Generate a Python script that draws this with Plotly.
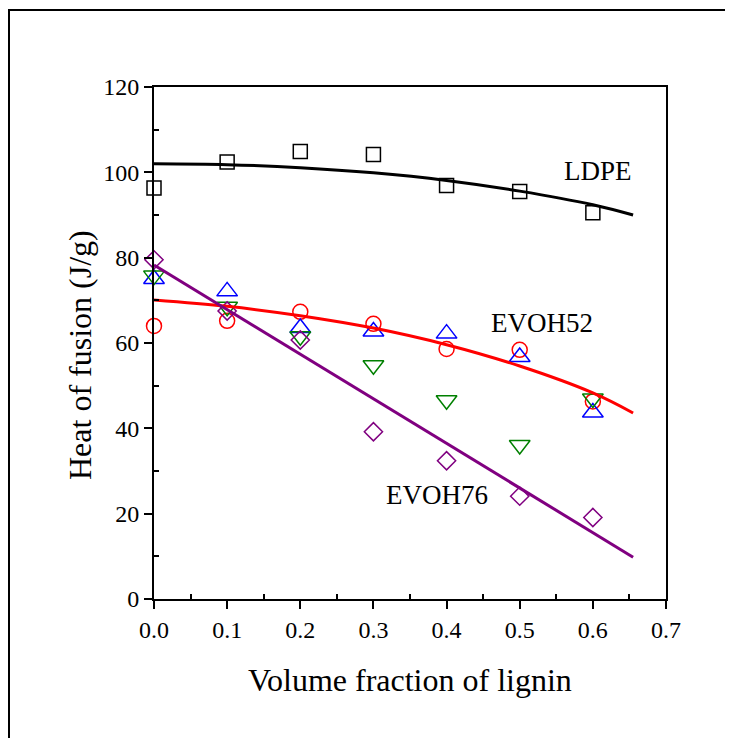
import plotly.graph_objects as go

# ---- data ----
frac = [0.0, 0.1, 0.2, 0.3, 0.4, 0.5, 0.6]
ldpe = [96.3, 102.4, 104.9, 104.2, 96.9, 95.5, 90.5]
evoh52 = [64.0, 65.2, 67.3, 64.5, 58.6, 58.4, 46.3]
series_up = [75.0, 72.1, 63.5, 62.7, 62.2, 56.7, 43.7]
series_down = [75.8, 68.5, 61.6, 54.8, 46.6, 36.1, 47.0]
evoh76 = [79.5, 67.5, 60.7, 39.2, 32.4, 24.1, 19.1]

fit_x = [0.0, 0.1, 0.2, 0.3, 0.4, 0.5, 0.6, 0.655]
fit_ldpe = [102.0, 101.8, 101.1, 99.9, 98.1, 95.6, 92.4, 90.0]
fit_evoh52 = [70.1, 68.6, 66.4, 63.5, 59.6, 54.6, 48.3, 43.6]
fit76_x = [0.0, 0.655]
fit_evoh76 = [78.3, 9.8]

labels = ["LDPE", "EVOH52", "EVOH76"]
label_x = [0.607, 0.530, 0.387]
label_y = [100.4, 64.6, 24.4]

x_range = [0, 0.7]
y_range = [0, 120]

FONT = "Liberation Serif, Times New Roman, serif"

fig = go.Figure()

def pts(y, sym, color, size):
    fig.add_trace(go.Scatter(
        x=frac, y=y, mode="markers",
        marker=dict(symbol=sym, size=size, color=color,
                    line=dict(color=color, width=1.5)),
        showlegend=False, cliponaxis=False))

def fit(x, y, color, shape="spline"):
    fig.add_trace(go.Scatter(x=x, y=y, mode="lines",
                             line=dict(color=color, width=3, shape=shape),
                             showlegend=False))

pts(ldpe, "square-open", "black", 14)
pts(evoh52, "circle-open", "#FF0000", 15)
pts(series_up, "triangle-up-open", "#0000FF", 18)
pts(series_down, "triangle-down-open", "#008000", 18)
pts(evoh76, "diamond-open", "#800080", 14)

fit(fit_x, fit_ldpe, "black")
fit(fit_x, fit_evoh52, "#FF0000")
fit(fit76_x, fit_evoh76, "#800080", "linear")

# invisible trace on overlay axes used only for the inside minor ticks
fig.add_trace(go.Scatter(x=[None], y=[None], xaxis="x2", yaxis="y2",
                         mode="markers", showlegend=False, hoverinfo="skip"))

for t, lx, ly in zip(labels, label_x, label_y):
    fig.add_annotation(x=lx, y=ly, text=t, showarrow=False,
                       font=dict(family=FONT, size=27, color="black"),
                       xanchor="center", yanchor="middle")

axis_common = dict(showline=True, linecolor="black", linewidth=2, mirror=True,
                   ticks="outside", ticklen=8, tickwidth=2, tickcolor="black",
                   showgrid=False, zeroline=False,
                   tickfont=dict(family=FONT, size=24, color="black"))

fig.update_layout(
    xaxis=dict(range=x_range, dtick=0.1, tick0=0, tickformat=".1f", **axis_common),
    yaxis=dict(range=y_range, dtick=20, tick0=0, **axis_common),
    xaxis2=dict(range=x_range, overlaying="x", anchor="y", side="bottom",
                tick0=0.05, dtick=0.1, ticks="inside", ticklen=5, tickwidth=1.5,
                tickcolor="black", showticklabels=False, showline=False,
                showgrid=False, zeroline=False),
    yaxis2=dict(range=y_range, overlaying="y", anchor="x", side="left",
                tick0=10, dtick=20, ticks="inside", ticklen=5, tickwidth=1.5,
                tickcolor="black", showticklabels=False, showline=False,
                showgrid=False, zeroline=False),
)

# axis titles
fig.add_annotation(xref="paper", yref="paper", x=0.5, y=-0.158,
                   text="Volume fraction of lignin", showarrow=False,
                   font=dict(family=FONT, size=32, color="black"),
                   xanchor="center", yanchor="middle")
fig.add_annotation(xref="paper", yref="paper", x=-0.1445, y=0.4766,
                   text="Heat of fusion (J/g)", showarrow=False, textangle=-90,
                   font=dict(family=FONT, size=32, color="black"),
                   xanchor="center", yanchor="middle")

# outer frame
fig.add_shape(type="rect", xref="paper", yref="paper",
              x0=(9 - 154) / 512, x1=(760 - 154) / 512,
              y0=(599 - 760) / 512, y1=(599 - 10) / 512,
              line=dict(color="black", width=2), layer="below")

# page body has an 8px margin, so the figure is made 8px smaller
fig.update_layout(width=725, height=730,
                  margin=dict(l=146, r=67, t=79, b=139),
                  plot_bgcolor="white", paper_bgcolor="white")

fig.write_html("out.html")
